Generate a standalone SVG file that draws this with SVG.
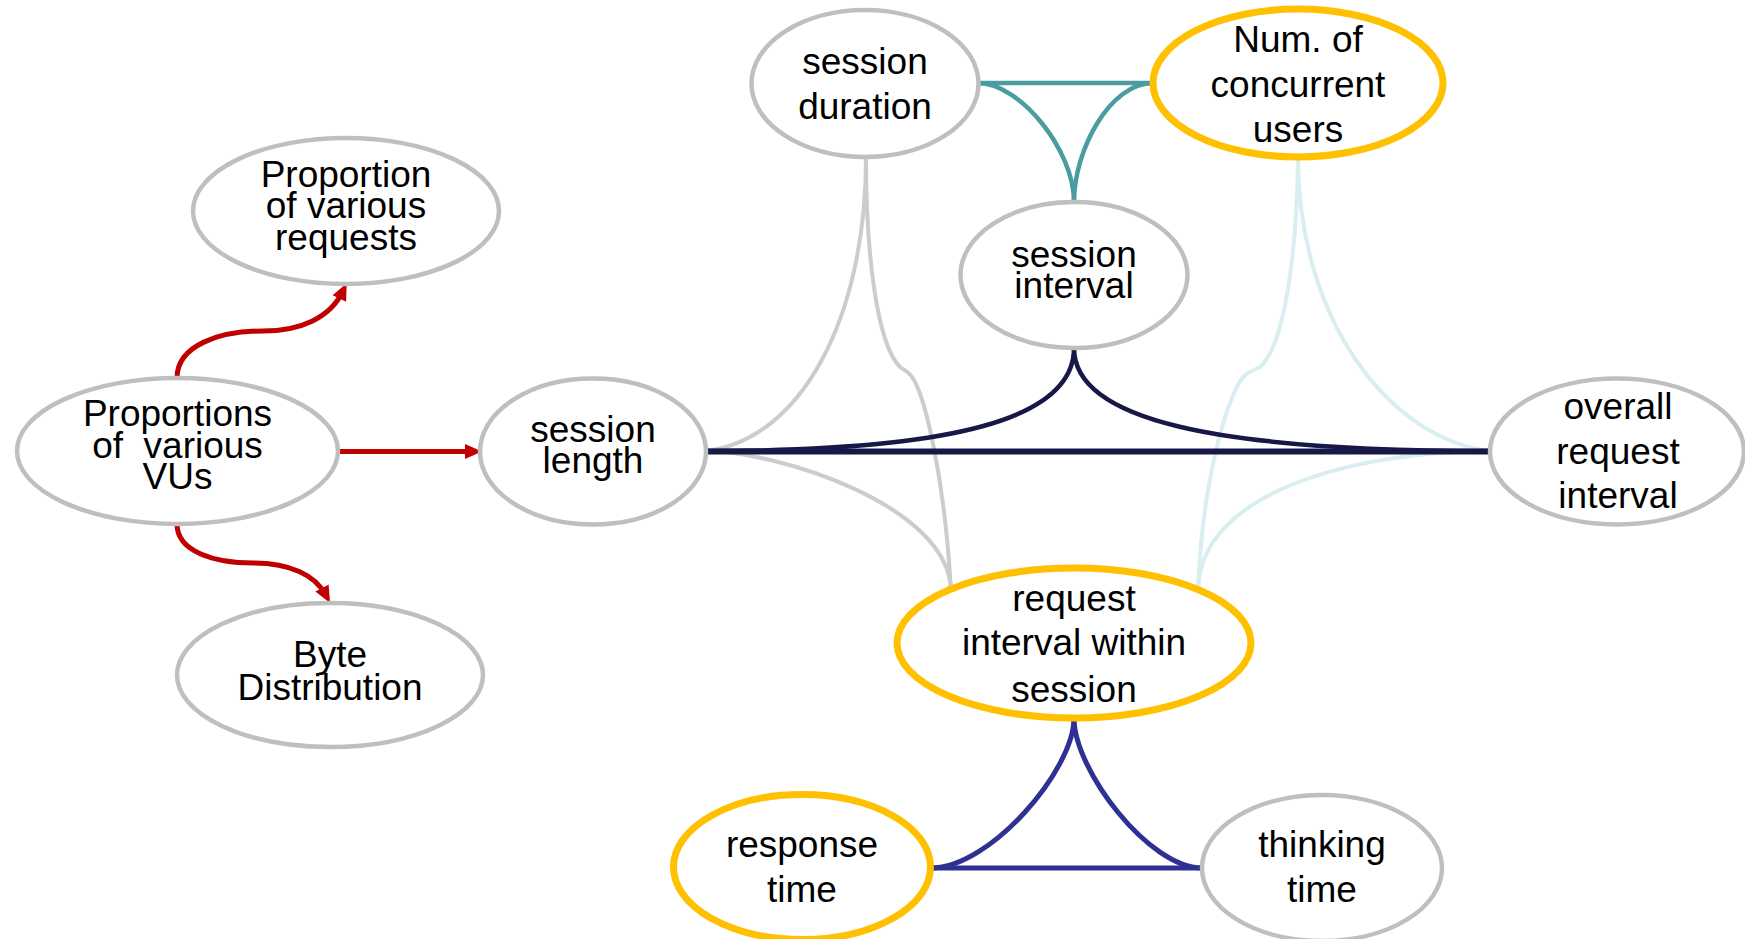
<svg xmlns="http://www.w3.org/2000/svg" width="1745" height="939" viewBox="0 0 1745 939">
<style>
.n{fill:#fff;stroke:#bfbfbf;stroke-width:4.5}
.o{fill:#fff;stroke:#ffc000;stroke-width:7}
text{font-family:"Liberation Sans",Arial,sans-serif;font-size:37px;fill:#000;text-anchor:middle}
.c{fill:none}
.red{stroke:#c00000;stroke-width:5}
.teal{stroke:#4a9ca1;stroke-width:4.5}
.navy{stroke:#181848;stroke-width:4.5}
.blue{stroke:#2e3192;stroke-width:5}
.gray{stroke:#cccccc;stroke-width:4}
.cyan{stroke:#d9eef0;stroke-width:4}
</style>
<defs>
<marker id="ar" markerUnits="userSpaceOnUse" markerWidth="18" markerHeight="16" refX="8" refY="8" orient="auto" viewBox="0 0 18 16">
<path d="M0,0.5 L17,8 L0,15.5 z" fill="#c00000"/>
</marker>
</defs>
<g id="connectors">
<path class="c gray" d="M706,451 C800,440 866,320 866,157"/>
<path class="c gray" d="M706,451 C775,451 951,505 951,592"/>
<path class="c gray" d="M866,157 C866,260 878,345 900,367 C904,370 909,372 912,377 C925,395 945,480 951,592"/>
<path class="c cyan" d="M1298,157 C1298,320 1390,440 1491,451"/>
<path class="c cyan" d="M1491,451 C1360,451 1198,490 1198,592"/>
<path class="c cyan" d="M1298,157 C1297,250 1285,345 1260,367 C1255,370 1250,371 1245,375 C1228,392 1202,480 1198,592"/>
<path class="c teal" d="M978,83 L1153,83"/>
<path class="c teal" d="M978,83 C1020,83 1074,150 1074,202"/>
<path class="c teal" d="M1153,83 C1110,83 1074,150 1074,202"/>
<path class="c navy" d="M706,451.5 L1491,451.5" style="stroke-width:6"/>
<path class="c navy" d="M1074,348 C1074,420 950,451 706,451"/>
<path class="c navy" d="M1074,348 C1074,420 1214,451 1491,451"/>
<path class="c blue" d="M931,868 L1202,868"/>
<path class="c blue" d="M1074,718 C1074,770 990,868 931,868"/>
<path class="c blue" d="M1074,718 C1074,770 1149,868 1202,868"/>
<path class="c red" d="M177,378 C177,345 220,331 263,331 C300,331 330,318 342.8,291.4" marker-end="url(#ar)"/>
<path class="c red" d="M338,451.5 L473,451.5" marker-end="url(#ar)"/>
<path class="c red" d="M177,524 C177,552 215,563 253,563 C290,563 315,575 325.8,595" marker-end="url(#ar)"/>
</g>
<g id="node-proportion-requests">
<ellipse class="n" cx="346" cy="211" rx="153" ry="73"/>
<text x="346" y="186.5">Proportion</text>
<text x="346" y="218">of various</text>
<text x="346" y="250">requests</text>
</g>
<g id="node-proportions-vus">
<ellipse class="n" cx="177.5" cy="451" rx="160.5" ry="73"/>
<text x="177.5" y="426">Proportions</text>
<text x="177.5" y="457.5" xml:space="preserve" style="white-space:pre">of  various</text>
<text x="177.5" y="489">VUs</text>
</g>
<g id="node-byte-distribution">
<ellipse class="n" cx="330" cy="675" rx="153" ry="72"/>
<text x="330" y="667">Byte</text>
<text x="330" y="700">Distribution</text>
</g>
<g id="node-session-duration">
<ellipse class="n" cx="865" cy="83.5" rx="113.5" ry="73.5"/>
<text x="865" y="74">session</text>
<text x="865" y="119">duration</text>
</g>
<g id="node-concurrent-users">
<ellipse class="o" cx="1298" cy="83" rx="145" ry="74"/>
<text x="1298" y="51.7">Num. of</text>
<text x="1298" y="96.7">concurrent</text>
<text x="1298" y="141.7">users</text>
</g>
<g id="node-session-interval">
<ellipse class="n" cx="1074" cy="275" rx="113.5" ry="73"/>
<text x="1074" y="266.7">session</text>
<text x="1074" y="298.3">interval</text>
</g>
<g id="node-session-length">
<ellipse class="n" cx="593" cy="451.5" rx="113" ry="73"/>
<text x="593" y="441.7">session</text>
<text x="593" y="473.3">length</text>
</g>
<g id="node-overall-request-interval">
<ellipse class="n" cx="1617" cy="451.5" rx="127" ry="73"/>
<text x="1618" y="419">overall</text>
<text x="1618" y="463.5">request</text>
<text x="1618" y="508">interval</text>
</g>
<g id="node-request-interval">
<ellipse class="o" cx="1074" cy="643" rx="177" ry="75"/>
<text x="1074" y="610.7">request</text>
<text x="1074" y="655">interval within</text>
<text x="1074" y="701.7">session</text>
</g>
<g id="node-response-time">
<ellipse class="o" cx="802" cy="867" rx="128.5" ry="72.5"/>
<text x="802" y="856.7">response</text>
<text x="802" y="901.7">time</text>
</g>
<g id="node-thinking-time">
<ellipse class="n" cx="1322" cy="868" rx="120" ry="73"/>
<text x="1322" y="856.7">thinking</text>
<text x="1322" y="901.7">time</text>
</g>
</svg>
